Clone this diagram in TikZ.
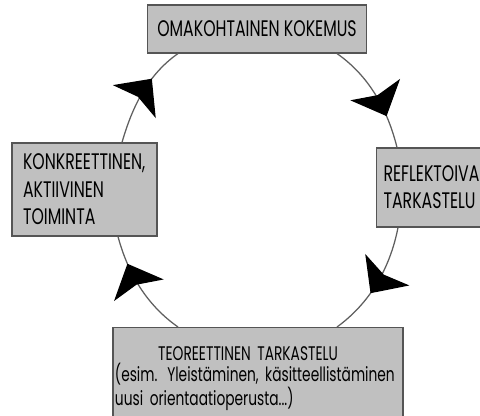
\documentclass[tikz,border=0pt]{standalone}
\usepackage{fontspec}
\setmainfont[FakeStretch=0.7]{Poppins}
\usepackage{tikz}
\usetikzlibrary{arrows.meta,positioning,decorations.markings}
\definecolor{kbgray}{RGB}{192,192,192}
\definecolor{kbedge}{RGB}{85,85,85}
\definecolor{kbline}{RGB}{95,95,95}
\tikzstyle{stagebox} = [rectangle, draw=kbedge, fill=kbgray, line width=0.8pt, inner sep=0pt]
\tikzset{cycleline/.style={line width=0.9pt, color=kbline, looseness=0.9, postaction={decorate},
    decoration={markings, mark=at position #1 with {\arrow[black]{Stealth[length=0.72cm, width=1.35cm, inset=0.15cm]}}}}}

\begin{document}
\begin{tikzpicture}
    \useasboundingbox (0,0) rectangle (12,10.4);
    \clip (0,0) rectangle (12,10.4);

    % Stages of the cycle
    \node[stagebox, minimum width=5.475cm, minimum height=1.2cm, font=\fontsize{16}{18}\selectfont] (oma) at (6.425,9.675) {OMAKOHTAINEN KOKEMUS};
    \node[stagebox, minimum width=3.625cm, minimum height=2.325cm, align=left, text width=3.075cm, font=\fontsize{16}{19.5}\selectfont] (konkr) at (2.1125,5.6625) {KONKREETTINEN,\\AKTIIVINEN\\TOIMINTA};
    \node[stagebox, anchor=west, minimum width=3.2cm, minimum height=1.975cm, align=left, text width=2.85cm, font=\fontsize{16}{19.2}\selectfont] (refl) at (9.4,5.7125) {REFLEKTOIVA\\TARKASTELU};
    \node[stagebox, anchor=north, minimum width=7.25cm, minimum height=2.55cm, align=left, text width=7.15cm, font=\fontsize{14}{14.9}\selectfont] (teor) at (6.45,2.225) {\hspace*{1.08cm}TEOREETTINEN TARKASTELU\\(esim. Yleistäminen, käsitteellistäminen\\uusi orientaatioperusta...)};

    % Cycle
    \draw[cycleline=0.66] ([xshift=0.9375cm]konkr.north) to[out=74, in=215] ([xshift=-1.975cm]oma.south);
    \draw[cycleline=0.71] ([xshift=2cm]oma.south) to[out=-35, in=104] ([xshift=0.525cm]refl.north west);
    \draw[cycleline=0.6] ([xshift=0.55cm]refl.south west) to[out=259, in=36] ([xshift=1.975cm]teor.north);
    \draw[cycleline=0.74] ([xshift=-2cm]teor.north) to[out=145, in=285] ([xshift=0.8375cm]konkr.south);
\end{tikzpicture}
\end{document}
